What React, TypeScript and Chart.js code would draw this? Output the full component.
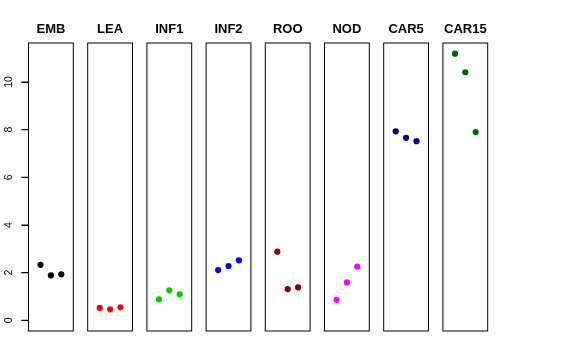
import React, { useEffect, useRef } from "react";
import { Chart, registerables } from "chart.js";

Chart.register(...registerables);

// ---- data ----
const categories = ["EMB", "LEA", "INF1", "INF2", "ROO", "NOD", "CAR5", "CAR15"];
const replicates = [1, 2, 3];
const valuesEMB = [2.33, 1.89, 1.93];
const valuesLEA = [0.52, 0.46, 0.55];
const valuesINF1 = [0.88, 1.26, 1.09];
const valuesINF2 = [2.11, 2.28, 2.52];
const valuesROO = [2.88, 1.31, 1.38];
const valuesNOD = [0.86, 1.59, 2.25];
const valuesCAR5 = [7.93, 7.66, 7.52];
const valuesCAR15 = [11.19, 10.41, 7.9];
const seriesValues = [valuesEMB, valuesLEA, valuesINF1, valuesINF2, valuesROO, valuesNOD, valuesCAR5, valuesCAR15];
const seriesColors = ["#000000", "#FF0000", "#00CD00", "#0000FF", "#8B0000", "#FF00FF", "#00008B", "#006400"];
const yTickValues = [0, 2, 4, 6, 8, 10];

// ---- layout ----
const W = 576;
const H = 360;
const PANEL_LEFT0 = 28.5;
const PANEL_STEP = 59.2;
const PANEL_W = 44.8;
const PANEL_TOP = 43;
const PANEL_BOTTOM = 331;
const TICK_LEN = 7;
const FONT = "'Liberation Sans', Arial, Helvetica, sans-serif";

const allValues = seriesValues.flat();
const yDataMax = Math.max(...allValues);
const yExt = 0.04 * (yDataMax - 0);
const Y_MIN = 0 - yExt;
const Y_MAX = yDataMax + yExt;
const X_MIN = 0 - 0.04 * 4;
const X_MAX = 4 + 0.04 * 4;

const boxPlugin = {
  id: "panelBox",
  afterDraw(chart: any) {
    const { ctx, chartArea } = chart;
    ctx.save();
    ctx.strokeStyle = "#000000";
    ctx.lineWidth = 1;
    ctx.strokeRect(chartArea.left, chartArea.top, chartArea.right - chartArea.left, chartArea.bottom - chartArea.top);
    const ys = chart.scales.y;
    if (ys && ys.options.display) {
      ctx.lineWidth = 1.2;
      ctx.beginPath();
      for (const t of ys.ticks) {
        const py = ys.getPixelForValue(t.value);
        ctx.moveTo(chartArea.left - TICK_LEN, py);
        ctx.lineTo(chartArea.left, py);
      }
      ctx.stroke();
    }
    ctx.restore();
  },
};

function Panel({ index }: { index: number }) {
  const ref = useRef<HTMLCanvasElement>(null);
  const first = index === 0;
  const left = PANEL_LEFT0 + index * PANEL_STEP;
  const canvasLeft = first ? 0 : Math.floor(left) - 6;
  const canvasRight = Math.ceil(left + PANEL_W) + 6;
  const cw = canvasRight - canvasLeft;

  useEffect(() => {
    const vals = seriesValues[index];
    const yScale: any = {
      type: "linear",
      position: "left",
      display: first,
      min: Y_MIN,
      max: Y_MAX,
      afterBuildTicks: (s: any) => {
        s.ticks = yTickValues.map((v) => ({ value: v }));
      },
      ticks: {
        minRotation: 90,
        maxRotation: 90,
        crossAlign: "center",
        padding: 7,
        color: "#000000",
        font: { family: FONT, size: 10.5 },
      },
      grid: {
        display: true,
        drawOnChartArea: false,
        drawTicks: true,
        tickLength: TICK_LEN,
        color: "#000000",
        tickColor: "#000000",
        tickWidth: 1,
        lineWidth: 1,
      },
      border: { display: false },
    };
    if (first) {
      yScale.afterFit = (s: any) => {
        s.width = left;
      };
    }
    const chart = new Chart(ref.current as HTMLCanvasElement, {
      type: "scatter",
      data: {
        datasets: [
          {
            data: replicates.map((r, i) => ({ x: r, y: vals[i] })),
            backgroundColor: seriesColors[index],
            borderWidth: 0,
            pointRadius: 3.1,
          },
        ],
      },
      options: {
        animation: false,
        responsive: false,
        maintainAspectRatio: false,
        events: [],
        layout: {
          padding: {
            left: first ? 0 : left - canvasLeft,
            right: canvasLeft + cw - (left + PANEL_W),
            top: 0,
            bottom: H - PANEL_BOTTOM,
          },
        },
        plugins: {
          legend: { display: false },
          tooltip: { enabled: false },
        },
        scales: {
          x: {
            type: "linear",
            position: "top",
            min: X_MIN,
            max: X_MAX,
            ticks: { display: false },
            grid: { display: false },
            border: { display: false },
            title: {
              display: true,
              text: categories[index],
              color: "#000000",
              font: { family: FONT, size: 13, weight: "bold" },
              padding: { top: 21.5, bottom: 0 },
            },
            afterFit: (s: any) => {
              s.height = PANEL_TOP;
            },
          },
          y: yScale,
        },
      } as any,
      plugins: [boxPlugin],
    });
    return () => chart.destroy();
  }, []);

  return (
    <canvas
      ref={ref}
      width={cw}
      height={H}
      style={{ position: "absolute", left: canvasLeft, top: 0, width: cw, height: H }}
    />
  );
}

export default function App() {
  return (
    <div style={{ position: "fixed", left: 0, top: 0, width: W, height: H, background: "#ffffff", overflow: "hidden" }}>
      {categories.map((c, i) => (
        <Panel key={c} index={i} />
      ))}
    </div>
  );
}
